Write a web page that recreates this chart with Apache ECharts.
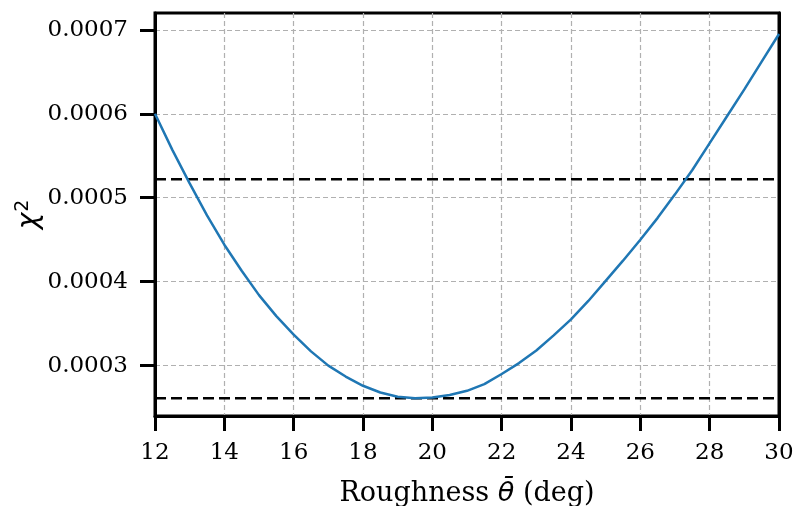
<!DOCTYPE html>
<html>
<head>
<meta charset="utf-8">
<script src="https://cdn.jsdelivr.net/npm/echarts@6/dist/echarts.min.js"></script>
<style>
  html, body { margin: 0; padding: 0; background: #fff; }
  #chart { width: 795px; height: 506px; }
</style>
</head>
<body>
<div id="chart"></div>
<script>
// roughness (deg) sampled every 0.5
var roughness = [12, 12.5, 13, 13.5, 14, 14.5, 15, 15.5, 16, 16.5, 17, 17.5, 18, 18.5, 19, 19.5,
    20, 20.5, 21, 21.5, 22, 22.5, 23, 23.5, 24, 24.5, 25, 25.5, 26, 26.5, 27, 27.5, 28, 28.5, 29, 29.5, 30];
// chi^2 values
var chi2 = [0.000600, 0.000557, 0.000517, 0.000479, 0.000444, 0.000413, 0.000384, 0.000359,
    0.000337, 0.000317, 0.000300, 0.000287, 0.000276, 0.000268, 0.000263, 0.000261,
    0.000262, 0.000265, 0.000270, 0.000278, 0.000290, 0.000303, 0.000318, 0.000336,
    0.000355, 0.000377, 0.000401, 0.000425, 0.000450, 0.000476, 0.000504, 0.000533,
    0.000565, 0.000597, 0.000629, 0.000662, 0.000695];
// dashed reference levels: minimum and twice the minimum
var levels = [0.000261, 0.000522];
var xTicks = [12, 14, 16, 18, 20, 22, 24, 26, 28, 30];
var yTicks = [0.0003, 0.0004, 0.0005, 0.0006, 0.0007];

var FONT = 'DejaVu Serif';
var MATH = 'DejaVu Sans';
var Y_MIN = 0.00024, Y_MAX = 0.00072;

var chart = echarts.init(document.getElementById('chart'), null, {renderer: 'canvas'});

var curve = [];
for (var i = 0; i < roughness.length; i++) {
    curve.push([roughness[i], chi2[i]]);
}

var series = [{
    type: 'line',
    data: curve,
    showSymbol: false,
    smooth: false,
    lineStyle: {color: '#1f77b4', width: 2.5},
    z: 3
}];
levels.forEach(function (lv) {
    series.push({
        type: 'line',
        data: [[xTicks[0], lv], [xTicks[xTicks.length - 1], lv]],
        showSymbol: false,
        lineStyle: {color: '#000', width: 2.5, type: [11, 5]},
        z: 2
    });
});

var option = {
    backgroundColor: '#fff',
    animation: false,
    grid: {
        left: 155, right: 16, top: 13, bottom: 90,
        containLabel: false, outerBoundsMode: 'none',
        show: true, borderColor: '#000', borderWidth: 3, backgroundColor: 'transparent'
    },
    xAxis: [{
        type: 'value',
        min: 12, max: 30, interval: 2,
        name: 'Roughness {i|θ\u0304} (deg)',
        nameLocation: 'middle',
        nameGap: 64,
        nameTextStyle: {
            fontFamily: FONT, fontSize: 27, color: '#000',
            rich: {i: {fontFamily: MATH, fontStyle: 'italic', fontSize: 27, color: '#000'}}
        },
        axisLine: {show: true, lineStyle: {color: '#000', width: 3}},
        axisTick: {show: true, inside: false, length: 15, lineStyle: {color: '#000', width: 3}},
        axisLabel: {fontFamily: FONT, fontSize: 23, color: '#000', margin: 26},
        splitLine: {show: true, lineStyle: {color: '#b0b0b0', width: 1.2, type: [5, 3]}}
    }],
    yAxis: [{
        type: 'value',
        min: Y_MIN, max: Y_MAX,
        name: '{c|χ}{s|2}',
        nameLocation: 'middle',
        nameRotate: 90,
        nameGap: 110,
        nameMoveOverlap: false,
        nameTextStyle: {
            fontFamily: FONT, fontSize: 27, color: '#000',
            rich: {
                c: {fontFamily: MATH, fontStyle: 'italic', fontSize: 28, color: '#000'},
                s: {fontFamily: MATH, fontSize: 19, color: '#000', verticalAlign: 'top', padding: [0, 0, 12, 1]}
            }
        },
        axisLine: {show: true, lineStyle: {color: '#000', width: 3}},
        axisTick: {show: true, inside: false, length: 15, lineStyle: {color: '#000', width: 3}, customValues: yTicks},
        axisLabel: {
            fontFamily: FONT, fontSize: 23, color: '#000', margin: 27,
            customValues: yTicks,
            formatter: function (v) { return v.toFixed(4); }
        },
        splitLine: {show: true, lineStyle: {color: '#b0b0b0', width: 1.2, type: [5, 3]}}
    }, {
        // right spine drawn above the gridlines
        type: 'value',
        position: 'right',
        min: Y_MIN, max: Y_MAX,
        axisLine: {show: true, lineStyle: {color: '#000', width: 3}},
        axisTick: {show: false},
        axisLabel: {show: false},
        splitLine: {show: false}
    }],
    series: series
};

chart.setOption(option);
</script>
</body>
</html>
